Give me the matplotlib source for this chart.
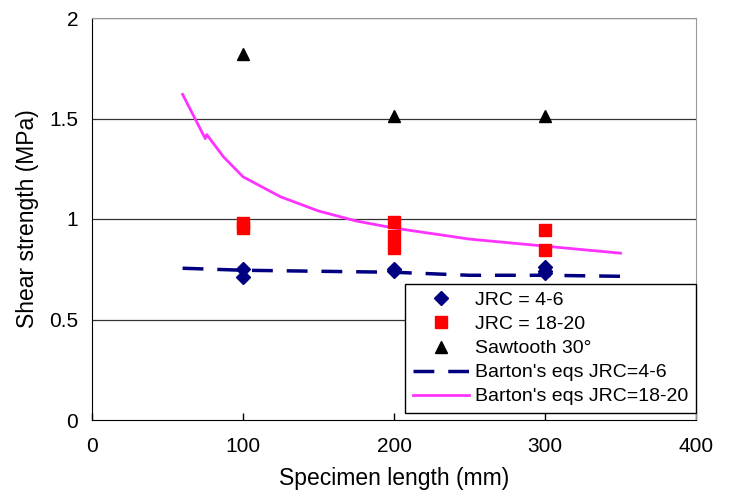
import matplotlib.pyplot as plt

plt.rcParams['font.family'] = ['Liberation Sans', 'DejaVu Sans']

# measured points
jrc_low_x = [100, 100, 200, 200, 300, 300, 300]
jrc_low_y = [0.75, 0.71, 0.75, 0.74, 0.76, 0.74, 0.73]
jrc_high_x = [100, 100, 200, 200, 200, 300, 300]
jrc_high_y = [0.98, 0.955, 0.985, 0.915, 0.855, 0.945, 0.845]
saw_x = [100, 200, 300]
saw_y = [1.82, 1.51, 1.51]

# Barton's equations
barton_low_x = [60, 100, 150, 200, 250, 300, 350]
barton_low_y = [0.755, 0.745, 0.74, 0.735, 0.72, 0.72, 0.715]
barton_high_x = [60, 75, 76, 87, 100, 125, 150, 175, 200, 250, 300, 350]
barton_high_y = [1.62, 1.40, 1.42, 1.31, 1.21, 1.11, 1.04, 0.99, 0.955, 0.90, 0.865, 0.83]

fig = plt.figure(figsize=(7.34, 4.96), dpi=100)
ax = fig.add_axes([92/734, 76/496, 604/734, 402/496])

for yv in [0.5, 1, 1.5, 2]:
    ax.axhline(yv, color='#333333', lw=0.9, zorder=1)

ax.plot(jrc_low_x, jrc_low_y, 'D', color='#000080', ms=7, ls='none', label='JRC = 4-6', zorder=3)
ax.plot(jrc_high_x, jrc_high_y, 's', color='#ff0000', ms=8, ls='none', label='JRC = 18-20', zorder=3)
ax.plot(saw_x, saw_y, '^', color='black', ms=8, ls='none', label='Sawtooth 30°', zorder=3)
ax.plot(barton_low_x, barton_low_y, color='#000080', lw=2.5, dashes=(6, 4), label="Barton's eqs JRC=4-6", zorder=2)
ax.plot(barton_high_x, barton_high_y, color='#ff33ff', lw=2, label="Barton's eqs JRC=18-20", zorder=2)

ax.set_xlim(0, 400)
ax.set_ylim(0, 2)
ax.set_xticks([0, 100, 200, 300, 400])
ax.set_yticks([0, 0.5, 1, 1.5, 2])
ax.set_yticklabels(['0', '0.5', '1', '1.5', '2'])
ax.tick_params(axis='both', labelsize=15, direction='in', length=5, width=1)
ax.tick_params(axis='x', pad=12)
ax.tick_params(axis='y', pad=10, length=0)
for s in ['top', 'right']:
    ax.spines[s].set_color('#999999')
ax.set_xlabel('Specimen length (mm)', fontsize=16.5, labelpad=8)
ax.set_ylabel('Shear strength (MPa)', fontsize=16.5, labelpad=7)

leg = ax.legend(loc='lower right', bbox_to_anchor=(1.0, 0.017), fontsize=14, frameon=True,
                fancybox=False, edgecolor='black', framealpha=1, handlelength=2.9,
                handletextpad=0.3, borderpad=0.4, labelspacing=0.33, borderaxespad=0)
leg.get_frame().set_linewidth(1)

fig.savefig('out.png', dpi=100)
